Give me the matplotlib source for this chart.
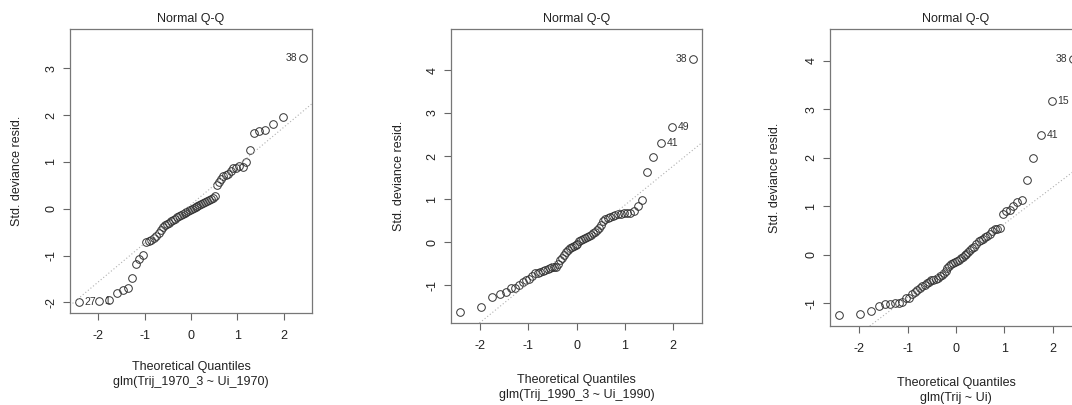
import numpy as np
import matplotlib
matplotlib.use("Agg")
import matplotlib.pyplot as plt
from statistics import NormalDist

plt.rcParams['font.family'] = ['Liberation Sans', 'DejaVu Sans']
plt.rcParams['axes.unicode_minus'] = False

# sorted std. deviance residuals (64 obs each)
resid_1970 = [-2.00, -1.97, -1.95, -1.79, -1.74, -1.69, -1.48, -1.18, -1.07, -0.99,
              -0.71, -0.69, -0.66, -0.62, -0.58, -0.52, -0.45, -0.38, -0.35, -0.33,
              -0.30, -0.27, -0.24, -0.21, -0.18, -0.15, -0.13, -0.11, -0.09, -0.07,
              -0.05, -0.03, -0.01, 0.01, 0.04, 0.06, 0.08, 0.10, 0.12, 0.14,
              0.16, 0.18, 0.20, 0.23, 0.27, 0.50, 0.57, 0.63, 0.69, 0.71,
              0.74, 0.80, 0.86, 0.88, 0.91, 0.90, 1.00, 1.25, 1.61, 1.65,
              1.69, 1.81, 1.95, 3.22]
resid_1990 = [-1.63, -1.50, -1.29, -1.21, -1.17, -1.08, -1.06, -1.01, -0.93, -0.88,
              -0.86, -0.80, -0.73, -0.71, -0.70, -0.68, -0.66, -0.63, -0.61, -0.59,
              -0.58, -0.57, -0.50, -0.42, -0.36, -0.31, -0.24, -0.19, -0.15, -0.12,
              -0.10, -0.08, -0.04, 0.02, 0.05, 0.07, 0.09, 0.11, 0.13, 0.16,
              0.20, 0.24, 0.28, 0.33, 0.40, 0.49, 0.53, 0.55, 0.58, 0.61,
              0.63, 0.65, 0.66, 0.67, 0.67, 0.68, 0.72, 0.84, 0.98, 1.62,
              1.98, 2.31, 2.68, 4.26]
resid_all = [-1.24, -1.21, -1.15, -1.05, -1.02, -1.01, -1.00, -1.00, -0.98, -0.90,
             -0.88, -0.80, -0.76, -0.72, -0.68, -0.65, -0.62, -0.58, -0.55, -0.52,
             -0.51, -0.50, -0.48, -0.44, -0.41, -0.38, -0.33, -0.27, -0.23, -0.19,
             -0.16, -0.14, -0.12, -0.10, -0.07, -0.04, -0.01, 0.02, 0.06, 0.10,
             0.14, 0.17, 0.22, 0.28, 0.31, 0.33, 0.36, 0.38, 0.42, 0.50,
             0.53, 0.54, 0.55, 0.84, 0.91, 0.93, 1.00, 1.09, 1.13, 1.54,
             1.99, 2.46, 3.16, 4.03]

# labelled observations: (rank in sorted residuals, observation id)
ids_1970 = [(0, '27'), (1, '1'), (63, '38')]
ids_1990 = [(61, '41'), (62, '49'), (63, '38')]
ids_all = [(61, '41'), (62, '15'), (63, '38')]

subtitles = ['glm(Trij_1970_3 ~ Ui_1970)', 'glm(Trij_1990_3 ~ Ui_1990)', 'glm(Trij ~ Ui)']

W, H = 1072, 405
fig = plt.figure(figsize=(W / 100, H / 100), dpi=100)


def px(l, t, r, b):
    return [l / W, 1 - b / H, (r - l) / W, (b - t) / H]


# pixel boxes of the three pasted plots: (left, top, right, bottom), ylab x, xlab y
boxes = [(70, 29, 312, 313, 17, 367),
         (451, 29, 702, 323, 399, 380),
         (830, 29, 1082, 326, 775, 383)]

nd = NormalDist()

for y, ids, sub, (l, t, r, b, ylx, xly) in zip(
        [resid_1970, resid_1990, resid_all], [ids_1970, ids_1990, ids_all], subtitles, boxes):
    y = np.array(y)
    n = len(y)
    x = np.array([nd.inv_cdf((i - 0.5) / n) for i in range(1, n + 1)])

    ax = fig.add_axes(px(l, t, r, b))
    ax.plot(x, y, 'o', mfc='none', mec='#333333', ms=5.5, mew=0.7, clip_on=False)

    # qqline through the quartiles
    q1, q3 = np.percentile(y, [25, 75])
    t1, t3 = nd.inv_cdf(0.25), nd.inv_cdf(0.75)
    slope = (q3 - q1) / (t3 - t1)
    icpt = q1 - slope * t1
    ax.axline((0, icpt), slope=slope, ls=(0, (1, 2)), color='#b0b0b0', lw=0.8)

    for k, lab in ids:
        right = x[k] <= np.mean([x[j] for j, _ in ids])
        ax.annotate(lab, (x[k], y[k]), xytext=(4 if right else -4, 0),
                    textcoords='offset points', ha='left' if right else 'right',
                    va='center', fontsize=7.5, color='#333333')

    # R style limits: extra room on top for labels, then 4% padding
    xr = x.max() - x.min()
    ax.set_xlim(x.min() - 0.04 * xr, x.max() + 0.04 * xr)
    lo, hi = y.min(), y.max()
    hi = hi + 0.075 * (hi - lo)
    yr = hi - lo
    ax.set_ylim(lo - 0.04 * yr, hi + 0.04 * yr)

    ax.set_xticks([-2, -1, 0, 1, 2])
    ax.set_xticklabels(['-2', '-1', '0', '1', '2'])
    ax.set_yticks(np.arange(np.ceil(lo), np.floor(hi) + 1))
    ax.set_yticklabels([str(int(v)) for v in ax.get_yticks()])
    ax.tick_params(direction='out', length=5, width=0.8, colors='#666666',
                   labelcolor='#222222', labelsize=9)
    ax.tick_params(axis='x', pad=7)
    ax.tick_params(axis='y', pad=4, labelrotation=90)
    for lbl in ax.get_yticklabels():
        lbl.set_va('center')
    for s in ax.spines.values():
        s.set_color('#777777')
        s.set_linewidth(0.9)

    cx = (l + r) / 2
    fig.text(cx / W, 1 - 19 / H, 'Normal Q-Q', ha='center', va='center', fontsize=9, color='#222222')
    fig.text(cx / W, 1 - xly / H, 'Theoretical Quantiles', ha='center', va='center',
             fontsize=9, color='#222222')
    fig.text(cx / W, 1 - (xly + 15) / H, sub, ha='center', va='center', fontsize=9, color='#222222')
    fig.text(ylx / W, 1 - (t + b) / 2 / H, 'Std. deviance resid.', ha='center', va='center',
             rotation=90, fontsize=9, color='#222222')

fig.savefig('out.png', dpi=100)
